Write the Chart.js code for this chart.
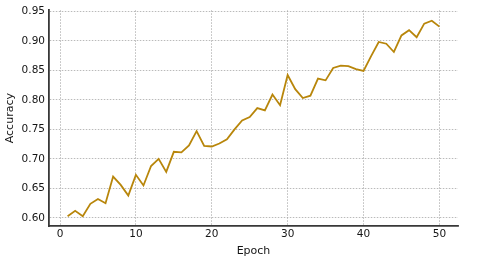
<!DOCTYPE html>
<html>
<head>
<meta charset="utf-8">
<script src="https://cdn.jsdelivr.net/npm/chart.js@4/dist/chart.umd.min.js"></script>
<style>
html,body{margin:0;padding:0;background:#fff;}
#c{display:block;}
</style>
</head>
<body>
<canvas id="c" width="480" height="264"></canvas>
<script>
const epochs = [1,2,3,4,5,6,7,8,9,10,11,12,13,14,15,16,17,18,19,20,21,22,23,24,25,26,27,28,29,30,31,32,33,34,35,36,37,38,39,40,41,42,43,44,45,46,47,48,49,50];
const accuracy = [0.603,0.612,0.603,0.624,0.632,0.625,0.670,0.656,0.638,0.673,0.655,0.688,0.700,0.678,0.712,0.711,0.723,0.747,0.722,0.721,0.726,0.733,0.750,0.765,0.771,0.786,0.782,0.809,0.791,0.842,0.818,0.803,0.807,0.836,0.833,0.854,0.858,0.857,0.852,0.849,0.874,0.898,0.895,0.881,0.909,0.918,0.906,0.929,0.934,0.924];
const xTicks = [0,10,20,30,40,50];
const yTicks = [0.60,0.65,0.70,0.75,0.80,0.85,0.90,0.95];
const xLabel = 'Epoch';
const yLabel = 'Accuracy';

const FONT = 'DejaVu Sans';
const txt = '#151515';
const gridCol = '#a8a8a8';
const spineCol = '#383838';

new Chart(document.getElementById('c'), {
  type: 'line',
  data: {
    datasets: [{
      data: epochs.map((e, i) => ({x: e, y: accuracy[i]})),
      borderColor: '#b8860b',
      borderWidth: 1.8,
      pointRadius: 0,
      tension: 0,
      fill: false
    }]
  },
  options: {
    responsive: false,
    animation: false,
    devicePixelRatio: 1,
    layout: {padding: {left: 0, right: 22, top: 7, bottom: 0}},
    plugins: {legend: {display: false}, tooltip: {enabled: false}},
    scales: {
      x: {
        type: 'linear',
        min: -1.45,
        max: 52.45,
        afterBuildTicks: s => { s.ticks = xTicks.map(v => ({value: v})); },
        afterFit: s => { s.height = 38; },
        ticks: {font: {family: FONT, size: 10.5}, color: txt, padding: 2, maxRotation: 0, autoSkip: false, callback: v => String(v)},
        grid: {color: gridCol, lineWidth: 0.8, drawTicks: false},
        border: {color: spineCol, width: 1.8, dash: [1.5, 1.5]},
        title: {display: true, text: xLabel, font: {family: FONT, size: 11}, color: txt, padding: {top: 0, bottom: 6}}
      },
      y: {
        type: 'linear',
        min: 0.5864,
        max: 0.9516,
        afterBuildTicks: s => { s.ticks = yTicks.map(v => ({value: v})); },
        afterFit: s => { s.width = 49; },
        ticks: {font: {family: FONT, size: 10.5}, color: txt, padding: 4, autoSkip: false, callback: v => v.toFixed(2)},
        grid: {color: gridCol, lineWidth: 0.8, drawTicks: false},
        border: {color: spineCol, width: 1.8, dash: [1.5, 1.5]},
        title: {display: true, text: yLabel, font: {family: FONT, size: 11}, color: txt, padding: {top: 4, bottom: 0}}
      }
    }
  }
});
</script>
</body>
</html>
